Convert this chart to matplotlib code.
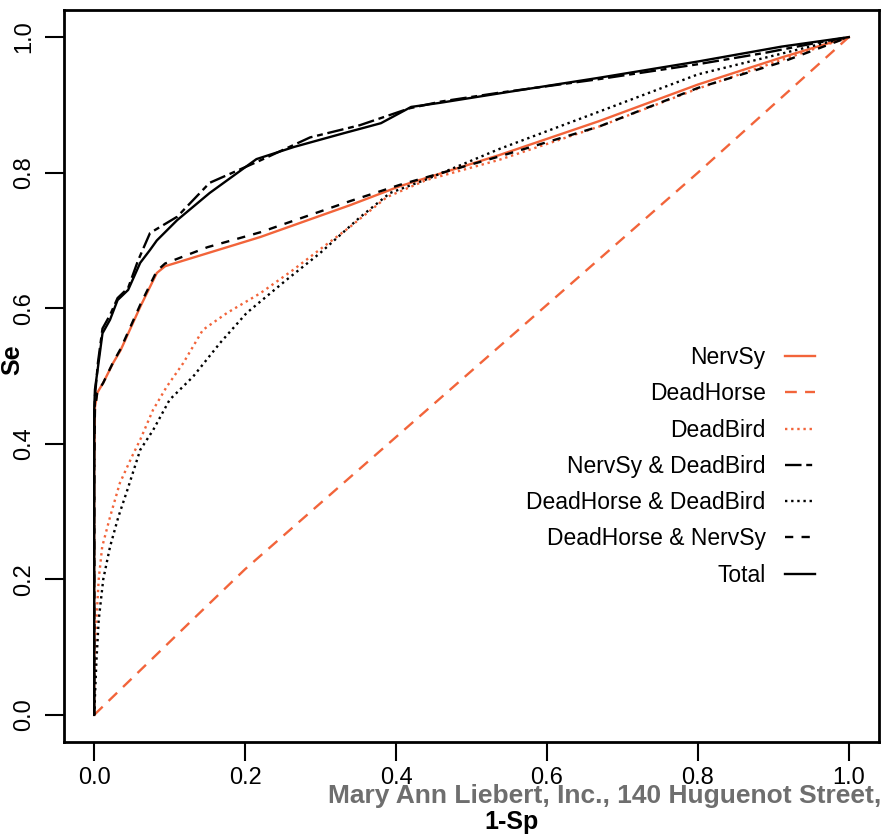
import matplotlib
matplotlib.use("Agg")
import matplotlib.pyplot as plt

plt.rcParams['font.family'] = ['Liberation Sans', 'DejaVu Sans']

ORANGE = '#F2643A'

# ---- data (1-Sp, Se) ----
nerv_x = [0, 0, 0.001, 0.004, 0.012, 0.025, 0.035, 0.061, 0.083, 0.094, 0.22, 0.339, 0.405, 0.537, 0.669, 0.80, 0.911, 1.0]
nerv_y = [0, 0.366, 0.454, 0.475, 0.49, 0.519, 0.538, 0.602, 0.652, 0.662, 0.705, 0.752, 0.78, 0.826, 0.876, 0.93, 0.97, 1.0]

horse_x = [0, 0.13, 0.2, 0.4, 0.6, 0.8, 1.0]
horse_y = [0, 0.14, 0.215, 0.41, 0.605, 0.80, 1.0]

bird_x = [0, 0.002, 0.006, 0.0106, 0.021, 0.034, 0.050, 0.061, 0.078, 0.096, 0.118, 0.144, 0.176, 0.22, 0.263, 0.303, 0.339, 0.388, 0.44, 0.537, 0.669, 0.80, 0.934, 1.0]
bird_y = [0, 0.12, 0.2, 0.248, 0.292, 0.342, 0.381, 0.406, 0.45, 0.484, 0.519, 0.568, 0.593, 0.622, 0.656, 0.69, 0.72, 0.764, 0.789, 0.819, 0.868, 0.924, 0.975, 1.0]

nerv_bird_x = [0, 0, 0.001, 0.005, 0.011, 0.021, 0.031, 0.045, 0.058, 0.074, 0.11, 0.153, 0.22, 0.286, 0.352, 0.418, 0.46, 0.537, 0.669, 0.80, 0.89, 0.95, 1.0]
nerv_bird_y = [0, 0.42, 0.47, 0.52, 0.57, 0.59, 0.615, 0.63, 0.67, 0.711, 0.735, 0.785, 0.818, 0.852, 0.87, 0.895, 0.905, 0.918, 0.938, 0.96, 0.977, 0.99, 1.0]

horse_bird_x = [0, 0.003, 0.006, 0.012, 0.021, 0.032, 0.044, 0.061, 0.078, 0.10, 0.131, 0.167, 0.202, 0.255, 0.299, 0.352, 0.392, 0.44, 0.537, 0.669, 0.80, 0.934, 1.0]
horse_bird_y = [0, 0.08, 0.14, 0.2, 0.248, 0.292, 0.332, 0.391, 0.42, 0.465, 0.499, 0.549, 0.593, 0.642, 0.681, 0.734, 0.77, 0.79, 0.835, 0.89, 0.945, 0.982, 1.0]

horse_nerv_x = [0, 0, 0.001, 0.004, 0.012, 0.025, 0.035, 0.061, 0.083, 0.094, 0.15, 0.22, 0.339, 0.405, 0.537, 0.669, 0.80, 0.911, 1.0]
horse_nerv_y = [0, 0.37, 0.45, 0.475, 0.49, 0.52, 0.54, 0.605, 0.655, 0.666, 0.69, 0.712, 0.758, 0.782, 0.824, 0.868, 0.925, 0.963, 1.0]

total_x = [0, 0, 0.001, 0.005, 0.011, 0.021, 0.031, 0.045, 0.061, 0.074, 0.083, 0.11, 0.153, 0.215, 0.265, 0.33, 0.38, 0.42, 0.458, 0.537, 0.669, 0.80, 0.911, 1.0]
total_y = [0, 0.45, 0.48, 0.513, 0.563, 0.583, 0.612, 0.627, 0.667, 0.686, 0.70, 0.73, 0.77, 0.82, 0.838, 0.858, 0.873, 0.897, 0.903, 0.917, 0.94, 0.964, 0.986, 1.0]

labels = ["NervSy", "DeadHorse", "DeadBird", "NervSy & DeadBird",
          "DeadHorse & DeadBird", "DeadHorse & NervSy", "Total"]
ticks = [0.0, 0.2, 0.4, 0.6, 0.8, 1.0]
tick_labels = ["0.0", "0.2", "0.4", "0.6", "0.8", "1.0"]

fig = plt.figure(figsize=(8.82, 8.35), dpi=100)
ax = fig.add_axes([64/882, 1-742/835, (879-64)/882, (742-10)/835])

lw = 1.7
h = []
h += ax.plot(nerv_x, nerv_y, color=ORANGE, lw=lw, ls='-')
h += ax.plot(horse_x, horse_y, color=ORANGE, lw=lw, ls=(0, (5, 3.5)))
h += ax.plot(bird_x, bird_y, color=ORANGE, lw=lw, ls=(0, (1, 1.6)))
h += ax.plot(nerv_bird_x, nerv_bird_y, color='black', lw=lw, ls=(0, (7, 2, 2.5, 2)))
h += ax.plot(horse_bird_x, horse_bird_y, color='black', lw=lw, ls=(0, (1, 1.6)))
h += ax.plot(horse_nerv_x, horse_nerv_y, color='black', lw=lw, ls=(0, (3.5, 3.5)))
h += ax.plot(total_x, total_y, color='black', lw=lw, ls='-')

ax.set_xlim(-0.04, 1.04)
ax.set_ylim(-0.04, 1.04)
ax.set_xticks(ticks)
ax.set_xticklabels(tick_labels)
ax.set_yticks(ticks)
ax.set_yticklabels(tick_labels, rotation=90, va='center')
ax.tick_params(axis='both', length=14, width=1.5, labelsize=17, direction='out')
ax.tick_params(axis='x', pad=4)
ax.tick_params(axis='y', pad=7)
for s in ax.spines.values():
    s.set_linewidth(2)

ax.set_xlabel("1-Sp", fontsize=18, fontweight='bold')
ax.xaxis.label.set_va('center')
ax.xaxis.set_label_coords((511-64)/815, -0.109)
ax.set_ylabel("Se", fontsize=18, fontweight='bold')
ax.yaxis.label.set_va('center')
ax.yaxis.set_label_coords(-0.0638, 0.522)

ax.legend(h, labels, loc='upper right', bbox_to_anchor=(815/882, 1-346/835),
          bbox_transform=fig.transFigure, frameon=False, markerfirst=False,
          borderpad=0, borderaxespad=0, handlelength=1.3, handletextpad=0.85,
          labelspacing=0.58, fontsize=16.5)

fig.text(328/882, 1-803/835, "Mary Ann Liebert, Inc., 140 Huguenot Street,",
         color='#6e6e6e', fontsize=19, fontweight='bold', va='baseline', ha='left')

fig.savefig("out.png", dpi=100)
